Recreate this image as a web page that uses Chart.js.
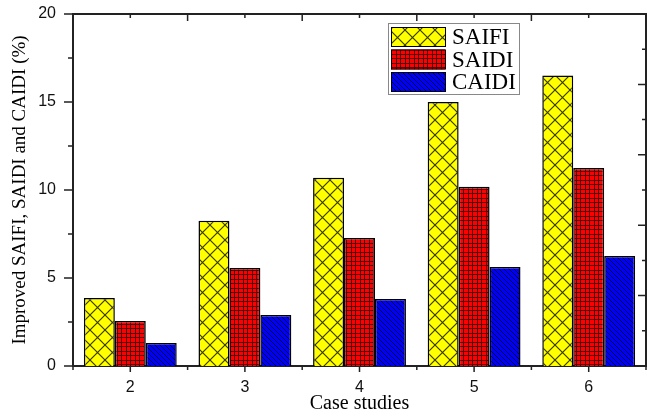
<!DOCTYPE html>
<html>
<head>
<meta charset="utf-8">
<script src="https://cdn.jsdelivr.net/npm/chart.js@4.4.1/dist/chart.umd.min.js"></script>
<style>
  html, body { margin: 0; padding: 0; background: #fff; }
  #wrap { width: 647px; height: 418px; }
</style>
</head>
<body>
<div id="wrap"><canvas id="grafico" width="647" height="418"></canvas></div>
<script>
// dados
const categorias = ['2', '3', '4', '5', '6'];
const saifi = [3.86, 8.25, 10.7, 15.0, 16.5];
const saidi = [2.56, 5.57, 7.27, 10.18, 11.25];
const caidi = [1.3, 2.9, 3.8, 5.62, 6.25];
const yTicks = [0, 5, 10, 15, 20];
const yMinor = [2.5, 7.5, 12.5, 17.5];
const yDireitaLongo = [4, 8, 12, 16];
const yDireitaCurto = [2, 6, 10, 14, 18];

const corEixo = '#222';

// PADROES DAS BARRAS
function criaPadrao(fundo, w, h, desenha) {
  const c = document.createElement('canvas');
  c.width = w; c.height = h;
  const g = c.getContext('2d');
  g.fillStyle = fundo;
  g.fillRect(0, 0, w, h);
  desenha(g, w, h);
  return document.createElement('canvas').getContext('2d').createPattern(c, 'repeat');
}

const padraoSaifi = criaPadrao('#ffff00', 15, 15, function (g, w, h) {
  g.strokeStyle = 'rgba(30,30,0,0.9)';
  g.lineWidth = 1.1;
  g.beginPath();
  g.moveTo(0, 0); g.lineTo(w, h);
  g.moveTo(w, 0); g.lineTo(0, h);
  g.stroke();
});

const padraoSaidi = criaPadrao('#ff0000', 9, 9, function (g) {
  g.fillStyle = 'rgba(60,0,0,0.9)';
  g.fillRect(0, 0, 1, 9); g.fillRect(4, 0, 1, 9);
  g.fillRect(0, 0, 9, 1); g.fillRect(0, 4, 9, 1);
});

const padraoCaidi = criaPadrao('#0000ff', 5, 5, function (g) {
  g.strokeStyle = '#000022';
  g.lineWidth = 1;
  g.beginPath();
  g.moveTo(-1, -1); g.lineTo(6, 6);
  g.moveTo(-1, 4); g.lineTo(1, 6);
  g.moveTo(4, -1); g.lineTo(6, 1);
  g.stroke();
});

// MOLDURA, TICKS E LEGENDA
const plugMoldura = {
  id: 'moldura',
  afterDraw(chart) {
    const ctx = chart.ctx;
    const ca = chart.chartArea;
    const xs = chart.scales.x, ys = chart.scales.y;
    ctx.save();
    ctx.strokeStyle = corEixo;
    ctx.lineWidth = 2;
    ctx.beginPath();
    ctx.moveTo(ca.left - 1, ca.top); ctx.lineTo(ca.right + 1, ca.top);
    ctx.moveTo(ca.right, ca.top); ctx.lineTo(ca.right, ca.bottom);
    ctx.stroke();

    ctx.lineWidth = 1.5;
    ctx.beginPath();
    function linha(x1, y1, x2, y2) { ctx.moveTo(x1, y1); ctx.lineTo(x2, y2); }
    // esquerda
    yTicks.forEach(v => { const p = ys.getPixelForValue(v); linha(ca.left - 9, p, ca.left, p); });
    yMinor.forEach(v => { const p = ys.getPixelForValue(v); linha(ca.left - 5, p, ca.left, p); });
    // direita
    yDireitaLongo.forEach(v => { const p = ys.getPixelForValue(v); linha(ca.right - 8, p, ca.right, p); });
    yDireitaCurto.forEach(v => { const p = ys.getPixelForValue(v); linha(ca.right - 4, p, ca.right, p); });
    // baixo e topo
    categorias.forEach((c, i) => {
      const p = xs.getPixelForValue(i);
      linha(p, ca.bottom, p, ca.bottom + 6);
      linha(p, ca.top, p, ca.top + 4);
    });
    for (let i = -0.5; i <= categorias.length - 0.5; i++) {
      const p = xs.getPixelForValue(i);
      linha(p, ca.bottom, p, ca.bottom + 4);
      if (i > 0 && i < categorias.length - 1) linha(p, ca.top, p, ca.top + 7);
    }
    ctx.stroke();

    // legenda
    const lx = ca.left + 315, ly = ca.top + 9, lw = 131, lh = 71;
    ctx.fillStyle = '#fff';
    ctx.fillRect(lx, ly, lw, lh);
    ctx.strokeStyle = '#888';
    ctx.lineWidth = 1;
    ctx.strokeRect(lx + 0.5, ly + 0.5, lw, lh);
    chart.data.datasets.forEach((ds, i) => {
      const sy = ly + 4 + i * 22.5;
      ctx.fillStyle = ds.backgroundColor;
      ctx.fillRect(lx + 3, sy, 54, 20);
      ctx.strokeStyle = '#000';
      ctx.lineWidth = 1;
      ctx.strokeRect(lx + 3.5, sy + 0.5, 54, 19);
      ctx.fillStyle = '#000';
      ctx.font = '23px "Liberation Serif"';
      ctx.textBaseline = 'middle';
      ctx.fillText(ds.label, lx + 64, sy + 11);
    });
    ctx.restore();
  }
};

const fonteNum = { family: 'Liberation Sans', size: 16 };
const fonteTitulo = { family: 'Liberation Serif', size: 19 };

new Chart(document.getElementById('grafico'), {
  type: 'bar',
  data: {
    labels: categorias,
    datasets: [
      { label: 'SAIFI', data: saifi, backgroundColor: padraoSaifi },
      { label: 'SAIDI', data: saidi, backgroundColor: padraoSaidi },
      { label: 'CAIDI', data: caidi, backgroundColor: padraoCaidi }
    ]
  },
  options: {
    responsive: false,
    animation: false,
    devicePixelRatio: 1,
    categoryPercentage: 0.81,
    barPercentage: 1,
    borderColor: '#000',
    borderWidth: 1.5,
    layout: { padding: { top: 14, right: 1, left: 0, bottom: 0 } },
    plugins: { legend: { display: false }, tooltip: { enabled: false } },
    scales: {
      x: {
        grid: { display: false, drawTicks: false },
        border: { color: corEixo, width: 2 },
        ticks: { color: '#111', font: fonteNum, padding: 12 },
        title: { display: true, text: 'Case studies', color: '#000', font: { family: 'Liberation Serif', size: 20 }, padding: { top: 0, bottom: 2 } },
        afterFit(s) { s.height = 52; s.paddingLeft = 0; s.paddingRight = 0; }
      },
      y: {
        min: 0, max: 20,
        afterBuildTicks(s) { s.ticks = yTicks.map(v => ({ value: v })); },
        grid: { display: false, drawTicks: false },
        border: { color: corEixo, width: 2 },
        ticks: { color: '#111', font: fonteNum, padding: 17 },
        title: { display: true, text: 'Improved SAIFI, SAIDI and CAIDI (%)', color: '#000', font: fonteTitulo, padding: { top: 9, bottom: 0 } },
        afterFit(s) { s.width = 73; s.paddingTop = 0; s.paddingBottom = 0; }
      }
    }
  },
  plugins: [plugMoldura]
});
</script>
</body>
</html>
